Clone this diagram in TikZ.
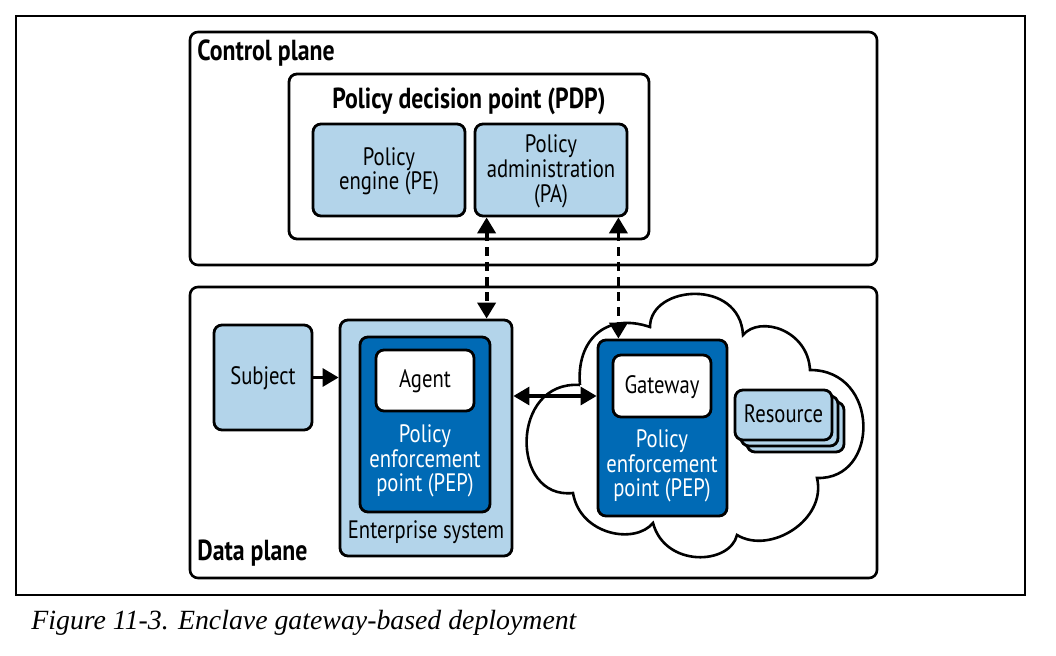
\documentclass[tikz,border=0pt]{standalone}
\usepackage{fontspec}
\setmainfont{PT Sans}[FakeStretch=0.82]
\newfontfamily\capfont{Liberation Serif}
\usepackage{tikz}
\usetikzlibrary{arrows.meta,positioning,calc,shadows}

\definecolor{paleblue}{RGB}{179,212,234}
\definecolor{pepblue}{RGB}{0,106,181}
\newcommand{\bodyfont}{\fontsize{12.6}{12.4}\selectfont}
\newcommand{\headfont}{\fontsize{14.5}{14}\selectfont\bfseries}

\tikzset{
  plane/.style={draw, line width=1.3pt, rounded corners=4pt, inner sep=0pt},
  block/.style={draw, line width=1.4pt, rounded corners=4pt, inner sep=0pt,
    align=center, font=\bodyfont, text depth=1.5pt},
  body/.style={inner sep=0pt, align=center, font=\bodyfont},
  head/.style={inner sep=0pt, font=\headfont},
  arr/.style={line width=1.6pt, -{Triangle[length=8pt,width=9pt]}},
  dasharr/.style={line width=1.9pt, dash pattern=on 4.5pt off 3pt,
    {Triangle[length=8pt,width=9pt]}-{Triangle[length=8pt,width=9pt]}}
}

\begin{document}
\begin{tikzpicture}[x=0.5pt,y=-0.5pt]
  \useasboundingbox (0,0) rectangle (1056,656); % 画像全体の大きさ
  \fill[white] (0,0) rectangle (1056,656);
  \draw[line width=0.7pt] (16,16) rectangle (1025,595); % 図の外枠

  % 制御プレーンとデータプレーン
  \node[plane, minimum width=343.5pt, minimum height=116.5pt] (ctrl) at (533.5,148.5) {};
  \node[plane, minimum width=343.5pt, minimum height=145.5pt] (data) at (533.5,432.5) {};
  \node[head, anchor=west] (ctrltitle) at (197,53) {Control plane};
  \node[head, anchor=west] (datatitle) at (197,553) {Data plane};

  % PDP とその中の PE, PA
  \node[plane, line width=1.4pt, minimum width=180pt, minimum height=82.5pt] (pdp) at (469,156.5) {};
  \node[head] (pdptitle) at (469,101) {Policy decision point (PDP)};
  \node[block, fill=paleblue, minimum width=76pt, minimum height=46pt] (pe) at (389,170) {Policy\\engine (PE)};
  \node[block, fill=paleblue, minimum width=76pt, minimum height=46pt] (pa) at (551,170) {Policy\\administration\\(PA)};

  % 雲（エンクレーブ）の輪郭。8つのふくらみをつなぐ
  \draw[line width=1.3pt, fill=white]
    (580,385) .. controls (576,340) and (606,312) .. (650,327)
    .. controls (650,285) and (740,278) .. (743,335)
    .. controls (760,315) and (808,330) .. (810,370)
    .. controls (880,370) and (880,480) .. (817,478)
    .. controls (827,520) and (770,555) .. (737,535)
    .. controls (730,565) and (665,568) .. (653,523)
    .. controls (635,545) and (580,535) .. (573,493)
    .. controls (510,500) and (510,380) .. (580,385);

  % 主体とエンタープライズシステム
  \node[block, fill=paleblue, minimum width=49pt, minimum height=52.5pt] (subject) at (263,377.5) {Subject};
  \node[block, fill=paleblue, minimum width=86pt, minimum height=118pt] (ent) at (426,438) {};
  \node[body] (enttitle) at (426,532) {Enterprise system};
  \node[block, fill=pepblue, minimum width=65pt, minimum height=87.5pt] (pep1) at (425,424.5) {};
  \node[block, fill=white, minimum width=49pt, minimum height=30.5pt] (agent) at (425,380.5) {Agent};
  \node[body, text=white] (pep1text) at (425,461) {Policy\\enforcement\\point (PEP)};

  % ゲートウェイ側の PEP と資源
  \node[block, fill=pepblue, minimum width=64.5pt, minimum height=88pt] (pep2) at (662.5,428) {};
  \node[block, fill=white, minimum width=49pt, minimum height=31pt] (gateway) at (662,386) {Gateway};
  \node[body, text=white] (pep2text) at (662,466) {Policy\\enforcement\\point (PEP)};
  \node[block, fill=paleblue, minimum width=48.5pt, minimum height=25pt,
    double copy shadow={shadow xshift=3pt, shadow yshift=-3pt}] (resource) at (783.5,415) {Resource};

  % 矢印
  \draw[arr] (subject.east) -- (subject.east -| ent.west);
  \draw[arr, {Triangle[length=8pt,width=9pt]}-{Triangle[length=8pt,width=9pt]}]
    ([yshift=21pt]ent.east) -- ([yshift=21pt]ent.east -| pep2.west);
  \draw[dasharr] ([xshift=6.5pt]pa.south west) -- ([xshift=6.5pt]pa.south west |- ent.north);
  \draw[dasharr] ([xshift=-5pt]pa.south east) -- ([xshift=-5pt]pa.south east |- pep2.north);

  \node[anchor=west, inner sep=0pt, font=\capfont\itshape\fontsize{13.9}{16}\selectfont] (caption) at (31,623) {Figure 11-3. Enclave gateway-based deployment};
\end{tikzpicture}
\end{document}
